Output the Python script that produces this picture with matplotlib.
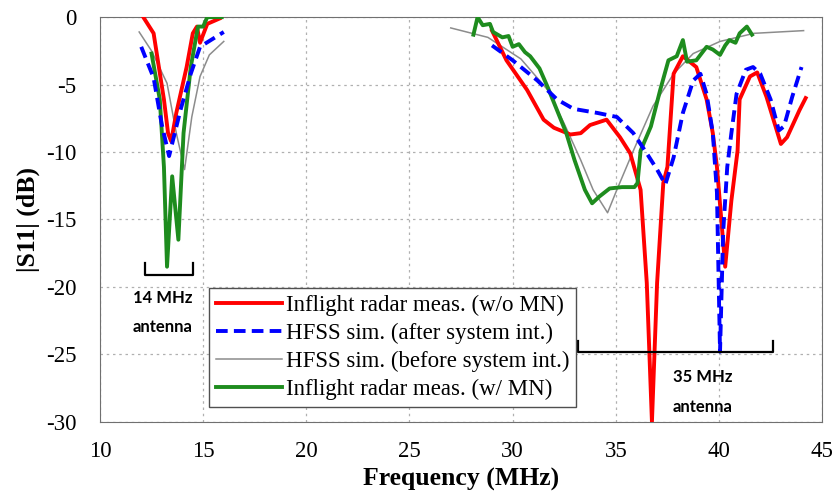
import numpy as np
import matplotlib
matplotlib.use('Agg')
import matplotlib.pyplot as plt

nan = np.nan

# red: inflight radar meas. (w/o MN)
red_f = [12.1, 12.6, 13.1, 13.3, 13.45, 13.7, 14.2, 14.5, 14.7, 14.85, 15.2, 15.8, nan,
         29.0, 29.7, 30.7, 31.5, 32.0, 32.8, 33.3, 33.75, 34.55, 35.2, 35.7, 36.2, 36.5, 36.75,
         37.0, 37.3, 37.5, 37.8, 38.25, 38.9, 39.4, 39.7, 39.9, 40.1, 40.3, 40.6, 40.9, 41.0,
         41.5, 41.85, 42.3, 43.0, 43.3, 43.6, 43.9, 44.2]
red_s = [0.0, -1.2, -6.1, -8.6, -9.2, -7.1, -3.7, -1.2, -0.7, -1.9, -0.5, -0.1, nan,
         -1.0, -3.2, -5.4, -7.6, -8.2, -8.7, -8.6, -8.0, -7.6, -8.9, -10.1, -12.8, -19.7, -30.0,
         -19.7, -12.3, -11.1, -4.2, -2.9, -3.7, -6.1, -8.6, -11.1, -14.8, -18.5, -13.6, -9.9, -6.1,
         -4.4, -4.1, -5.9, -9.4, -8.9, -7.9, -6.9, -6.0]

# blue dashed: HFSS sim. (after system int.)
blue_f = [12.0, 12.6, 13.0, 13.35, 13.9, 14.4, 14.85, 16.0, nan,
          29.0, 30.0, 31.2, 32.15, 32.95, 34.1, 35.05, 35.85, 36.5, 37.0, 37.4, 37.8, 38.25,
          38.75, 39.1, 39.4, 39.7, 39.9, 40.05, 40.2, 40.4, 40.6, 40.85, 41.3, 41.65, 42.0,
          42.5, 42.9, 43.15, 43.55, 44.0]
blue_s = [-2.2, -4.5, -8.0, -10.3, -6.9, -4.2, -2.2, -1.1, nan,
          -2.1, -3.2, -4.7, -6.1, -6.8, -7.1, -7.4, -8.6, -10.1, -11.3, -12.4, -10.4, -7.1,
          -4.7, -4.2, -5.7, -8.6, -13.0, -24.8, -16.0, -11.1, -8.6, -5.7, -3.9, -3.7, -4.2,
          -6.1, -8.4, -8.1, -5.9, -3.7]

# gray: HFSS sim. (before system int.)
gray_f = [11.9, 12.5, 13.25, 13.7, 14.1, 14.45, 14.85, 15.3, 16.0, nan,
          27.0, 28.8, 30.4, 31.7, 32.5, 33.3, 33.9, 34.6, 35.05, 35.85, 36.8, 37.8, 38.75,
          40.05, 41.7, 44.1]
gray_s = [-1.1, -2.5, -4.9, -8.6, -11.3, -7.4, -4.4, -2.8, -1.8, nan,
          -0.8, -1.5, -3.1, -5.4, -7.9, -10.6, -12.8, -14.5, -12.8, -9.9, -6.6, -4.2, -2.7,
          -1.8, -1.2, -1.0]

# green: inflight radar meas. (w/ MN)
green_f = [12.5, 12.9, 13.1, 13.25, 13.5, 13.8, 14.05, 14.4, 14.75, 15.0, 15.2, 15.9, nan,
           28.1, 28.3, 28.55, 28.9, 29.05, 29.5, 29.8, 30.0, 30.3, 30.6, 30.85, 31.1, 31.3,
           31.7, 32.15, 32.6, 33.0, 33.5, 33.85, 34.2, 34.7, 35.3, 35.9, 36.05, 36.2, 36.7,
           37.15, 37.55, 37.95, 38.25, 38.45, 38.9, 39.4, 39.7, 40.05, 40.3, 40.5, 40.8,
           41.0, 41.35, 41.6]
green_s = [-2.7, -6.1, -11.1, -18.5, -11.8, -16.5, -8.6, -3.7, -0.7, -0.7, 0.0, 0.0, nan,
           -1.3, 0.0, -0.6, -0.5, -1.1, -1.5, -1.4, -2.2, -2.0, -2.6, -2.9, -3.4, -3.8,
           -5.2, -6.9, -8.6, -10.6, -12.8, -13.8, -13.3, -12.7, -12.6, -12.6, -12.3, -9.9, -8.1,
           -5.4, -3.2, -2.9, -1.7, -3.3, -3.2, -2.2, -2.4, -2.8, -2.1, -1.7, -1.9,
           -1.2, -0.7, -1.3]

labels = ["Inflight radar meas. (w/o MN)", "HFSS sim. (after system int.)",
          "HFSS sim. (before system int.)", "Inflight radar meas. (w/ MN)"]
xticks = [10, 15, 20, 25, 30, 35, 40, 45]
yticks = [0, -5, -10, -15, -20, -25, -30]

plt.rcParams['font.family'] = 'Liberation Serif'
plt.rcParams['axes.unicode_minus'] = False

fig = plt.figure(figsize=(8.33, 5.04), dpi=100)
ax = fig.add_axes([0.12, 0.163, 0.867, 0.803])

ax.plot(gray_f, gray_s, color='#8c8c8c', lw=1.1, label=labels[2], zorder=2)
ax.plot(red_f, red_s, color='#ff0000', lw=2.8, label=labels[0], zorder=3)
ax.plot(blue_f, blue_s, color='#0000ff', lw=2.8, ls=(0, (3, 1.6)), label=labels[1], zorder=4)
ax.plot(green_f, green_s, color='#1e8c1e', lw=2.8, label=labels[3], zorder=3)

# brackets
ax.plot([12.2, 12.2, 14.5, 14.5], [-18.2, -19.1, -19.1, -18.2], color='black', lw=1.6, zorder=5)
ax.plot([33.17, 33.17, 42.6, 42.6], [-24.0, -24.8, -24.8, -24.0], color='black', lw=1.6, zorder=5)
tkw = dict(ha='center', va='center', fontsize=12, family='Lato', fontweight='bold')
ax.text(13.05, -20.8, "14 MHz", **tkw)
ax.text(13.05, -23.0, "antenna", **tkw)
ax.text(39.2, -26.7, "35 MHz", **tkw)
ax.text(39.2, -28.9, "antenna", **tkw)

ax.set_xlim(10, 45)
ax.set_ylim(-30, 0)
ax.set_xticks(xticks)
ax.set_yticks(yticks)
ax.tick_params(labelsize=16.5, length=0)
ax.tick_params(axis='x', pad=14)
ax.tick_params(axis='y', pad=17)
ax.grid(True, ls=(0, (2, 3)), color='#b0b0b0', lw=0.9)
for s in ax.spines.values():
    s.set_color('#707070')
ax.set_xlabel("Frequency (MHz)", fontsize=18.5, fontweight='bold', labelpad=4)
ax.set_ylabel("|S11| (dB)", fontsize=18.5, fontweight='bold', labelpad=4)

h, l = ax.get_legend_handles_labels()
order = [1, 2, 0, 3]
leg = ax.legend([h[i] for i in order], [l[i] for i in order], loc='lower left',
                bbox_to_anchor=(0.151, 0.037), fontsize=16.5, frameon=True, fancybox=False,
                handlelength=2.9, handletextpad=0.15, borderpad=0.3, labelspacing=0.3,
                borderaxespad=0)
leg.get_frame().set_edgecolor('#505050')
leg.get_frame().set_linewidth(1.0)
leg.get_frame().set_alpha(1)

fig.savefig('out.png', dpi=100)
